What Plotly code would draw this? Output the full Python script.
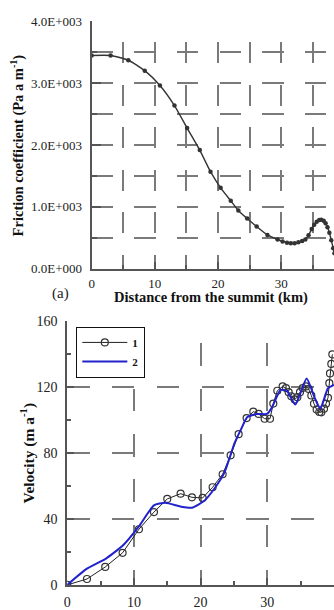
import plotly.graph_objects as go

# ---------------- data ----------------
# (a) friction coefficient vs distance from the summit
fric_km = [0, 3.0, 5.8, 8.4, 10.8, 13.1, 15.1, 17.1, 18.8, 20.4, 22.0, 23.2, 24.6,
           26.1, 27.8, 29.4, 30.2, 30.9, 31.5, 32.1, 32.7, 33.3, 33.8, 34.3, 34.8,
           35.2, 35.6, 36.0, 36.3, 36.7, 37.0, 37.3, 37.6, 37.9, 38.2, 38.4]
fric_val = [3450, 3450, 3373, 3205, 2965, 2640, 2275, 1918, 1569, 1307, 1098, 941, 811,
            680, 545, 471, 440, 419, 410, 412, 425, 445, 471, 540, 640,
            710, 758, 785, 790, 775, 735, 670, 580, 460, 330, 250]
fric_tickvals = [0, 1000, 2000, 3000, 4000]
fric_ticktext = ["0.0E+000", "1.0E+003", "2.0E+003", "3.0E+003", "4.0E+003"]

# (b) velocity, series 1 (circles) and series 2 (blue line)
v1_km = [0, 2.96, 5.7, 8.3, 10.75, 13.0, 15.0, 17.0, 18.7, 20.3, 21.8, 23.3, 24.5,
         25.7, 26.9, 27.9, 28.7, 29.6, 30.4, 30.9, 31.5, 32.3, 32.8, 33.2, 33.6,
         34.1, 34.5, 34.9, 35.3, 35.8, 36.2, 36.6, 37.0, 37.4, 37.8, 38.1, 38.5,
         38.8, 39.1, 39.3, 39.4, 39.6, 39.75]
v1_val = [0, 3.6, 10.9, 19.5, 33.8, 44.2, 52.2, 55.4, 53.2, 52.8, 59.3, 67.2, 78.7,
          91.5, 101.3, 105.2, 103.8, 100.9, 100.9, 110.1, 117.9, 120.5, 119.5, 117.0, 114.5,
          112.6, 114.0, 117.0, 119.5, 120.5, 119.0, 115.0, 110.0, 106.5, 105.0, 104.8, 107.0,
          110.0, 113.6, 122.5, 128.4, 134.2, 140.0]
v2_km = [0, 2.9, 5.8, 8.3, 10.75, 13.0, 14.7, 17.1, 18.7, 20.5, 22.1, 23.6, 25.1,
         26.0, 27.0, 28.4, 29.95, 30.7, 32.0, 33.0, 34.2, 35.9, 37.1, 37.95, 39.1, 40.0]
v2_val = [0, 9.7, 16.0, 23.8, 35.6, 48.3, 49.9, 47.5, 46.9, 50.9, 58.7, 68.5, 86.2,
          94.0, 101.9, 103.8, 103.8, 107.8, 118.5, 117.5, 109.5, 125.3, 113.6, 107.0, 119.4, 121.5]
vel_tickvals = [0, 40, 80, 120, 160]
dist_tickvals = [0, 10, 20, 30, 40]

# ---------------- styling ----------------
W, H = 334, 610
SERIF = "Liberation Serif"
GRID_C = "#7a7a7a"
AX_C = "#555555"

def px_x(p):
    return p / W

def px_y(p):
    return 1 - p / H

# small headroom so the top grid line (at the top value) is still drawn
TOP_EXTRA_A = 12      # data units above 4000
TOP_EXTRA_B = 0.5     # data units above 160
top_a_px = 15 - TOP_EXTRA_A * (255 / 4000)
top_b_px = 324.5 - TOP_EXTRA_B * (272 / 160)

fig = go.Figure()

fig.add_trace(go.Scatter(
    x=fric_km, y=fric_val, mode="lines+markers", xaxis="x", yaxis="y",
    line=dict(color="#333333", width=1.4, shape="spline", smoothing=0.6),
    marker=dict(size=4.5, color="#333333"), showlegend=False))

fig.add_trace(go.Scatter(
    x=v1_km, y=v1_val, mode="lines+markers", name="1", xaxis="x2", yaxis="y2",
    line=dict(color="#222222", width=1),
    marker=dict(symbol="circle-open", size=7, color="#333333", line=dict(width=1.2))))

fig.add_trace(go.Scatter(
    x=v2_km, y=v2_val, mode="lines", name="2", xaxis="x2", yaxis="y2",
    line=dict(color="#2222cc", width=2, shape="spline", smoothing=0.5)))

tickfont = dict(family=SERIF, size=13, color="#222222")
tickfont2 = dict(family=SERIF, size=14, color="#222222")

common = dict(showline=True, linecolor=AX_C, linewidth=2, ticks="inside",
              tickcolor=AX_C, tickwidth=1.5, zeroline=False, showgrid=True,
              gridcolor=GRID_C, gridwidth=1.6)

ann_common = dict(xref="paper", yref="paper", showarrow=False,
                  xanchor="center", yanchor="middle")

fig.update_layout(
    width=W, height=H, margin=dict(l=0, r=0, t=0, b=0),
    paper_bgcolor="white", plot_bgcolor="white",
    xaxis=dict(domain=[px_x(88.7), 1], range=[0, 38.33], anchor="y",
               tickmode="linear", tick0=0, dtick=10, ticklen=7, ticklabelstandoff=2,
               tickfont=tickfont, griddash="0px,21.25px,21.25px,0px",
               minor=dict(tick0=0, dtick=5, ticks="inside", ticklen=4, tickcolor=AX_C,
                          showgrid=True, gridcolor=GRID_C, gridwidth=1.6,
                          griddash="0px,21.25px,21.25px,0px"),
               **common),
    yaxis=dict(domain=[px_y(270), px_y(top_a_px)], range=[0, 4000 + TOP_EXTRA_A], anchor="x",
               tickmode="array", tickvals=fric_tickvals, ticktext=fric_ticktext,
               ticklen=9, ticklabelstandoff=5, tickfont=tickfont, griddash="21.35px,21.35px",
               minor=dict(tick0=0, dtick=500, ticks="inside", ticklen=5, tickcolor=AX_C,
                          showgrid=True, gridcolor=GRID_C, gridwidth=1.6,
                          griddash="21.35px,21.35px"),
               **common),
    xaxis2=dict(domain=[px_x(64), 1], range=[0, 40], anchor="y2",
                tickmode="array", tickvals=dist_tickvals, ticklen=7, ticklabelstandoff=3,
                tickfont=tickfont2, griddash="0px,22.67px,22.67px,0px",
                minor=dict(tick0=0, dtick=5, ticks="inside", ticklen=4, tickcolor=AX_C,
                           showgrid=False),
                **common),
    yaxis2=dict(domain=[px_y(596.5), px_y(top_b_px)], range=[0, 160 + TOP_EXTRA_B], anchor="x2",
                tickmode="array", tickvals=vel_tickvals, ticklen=7, ticklabelstandoff=5,
                tickfont=tickfont2, griddash="22.4px,22.4px",
                minor=dict(tick0=0, dtick=20, ticks="inside", ticklen=4, tickcolor=AX_C,
                           showgrid=False),
                **common),
    legend=dict(x=px_x(73), y=px_y(330), xanchor="left", yanchor="top",
                bgcolor="white", bordercolor="#111111", borderwidth=1.2,
                font=dict(family=SERIF, size=11, color="#111111", weight="bold"),
                itemwidth=45, tracegroupgap=0),
    annotations=[
        dict(text="<b>Friction coefficient (Pa a m<sup>-1</sup>)</b>", x=px_x(14), y=px_y(143),
             textangle=-90, font=dict(family=SERIF, size=14.5, color="#111111"), **ann_common),
        dict(text="<b>Distance from the summit (km)</b>", x=px_x(210), y=px_y(299.5),
             font=dict(family=SERIF, size=14.5, color="#111111"), **ann_common),
        dict(text="(a)", x=px_x(57), y=px_y(296),
             font=dict(family=SERIF, size=15, color="#222222"), **ann_common),
        dict(text="<b>Velocity (m a<sup>-1</sup>)</b>", x=px_x(24), y=px_y(460),
             textangle=-90, font=dict(family=SERIF, size=15.5, color="#111111"), **ann_common),
    ],
)

fig.write_html("out.html")
